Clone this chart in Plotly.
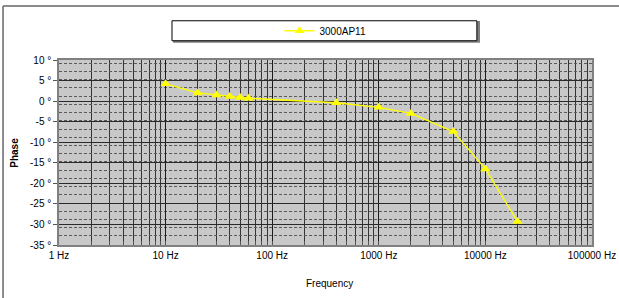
import plotly.graph_objects as go

freq_hz = [10, 20, 30, 40, 50, 60, 400, 1000, 2000, 5000, 10000, 20000]
phase_deg = [4.2, 2.0, 1.5, 1.1, 0.85, 0.7, -0.4, -1.5, -3.0, -7.4, -16.5, -29.3]
series_name = "3000AP11"

x_tickvals = [1, 10, 100, 1000, 10000, 100000]
x_ticktext = ["1 Hz", "10 Hz", "100 Hz", "1000 Hz", "10000 Hz", "100000 Hz"]
y_tickvals = [10, 5, 0, -5, -10, -15, -20, -25, -30, -35]
y_ticktext = [f"{v} °" for v in y_tickvals]
x_minor = [m * 10 ** d for d in range(5) for m in range(2, 10)]

FONT = "Liberation Sans, Arial, sans-serif"

fig = go.Figure()
fig.add_trace(go.Scatter(
    x=freq_hz, y=phase_deg, name=series_name, mode="lines+markers",
    line=dict(color="#FFFF00", width=1.3),
    marker=dict(symbol="triangle-up", size=9, color="#FFFF00"),
    showlegend=True,
))

fig.update_layout(
    width=619, height=298,
    margin=dict(l=59, r=27, t=60, b=53),
    paper_bgcolor="white", plot_bgcolor="#C8C8C8",
    font=dict(family=FONT, size=10, color="black"),
    showlegend=True,
    legend=dict(x=0.5, y=1.158, xanchor="center", yanchor="middle",
                orientation="h", bgcolor="rgba(0,0,0,0)",
                font=dict(family=FONT, size=10), itemwidth=30),
    xaxis=dict(
        type="log", range=[0, 5], automargin=False,
        tickmode="array", tickvals=x_tickvals, ticktext=x_ticktext,
        showgrid=True, gridcolor="#1a1a1a", gridwidth=1.2,
        ticks="inside", ticklen=4, tickcolor="#555",
        minor=dict(tickvals=x_minor, showgrid=True, gridcolor="#333333",
                   gridwidth=1.4, ticks="inside", ticklen=4, tickcolor="#555"),
        showline=True, linecolor="#808080", linewidth=1.5, mirror=True,
        zeroline=False, tickfont=dict(size=10),
    ),
    yaxis=dict(
        range=[-35, 10], automargin=False,
        tickmode="array", tickvals=y_tickvals, ticktext=y_ticktext,
        showgrid=True, gridcolor="#2a2a2a", gridwidth=1.3,
        ticks="outside", ticklen=4, tickcolor="#555",
        minor=dict(tick0=-0.8, dtick=2, showgrid=True, gridcolor="#5a5a5a",
                   griddash="3px,2px", gridwidth=1),
        showline=True, linecolor="#808080", linewidth=1.5, mirror=True,
        zeroline=False, tickfont=dict(size=10),
    ),
    annotations=[
        dict(text="<b>Phase</b>", x=-0.084, y=0.5, xref="paper", yref="paper",
             textangle=-90, showarrow=False, font=dict(size=10),
             xanchor="center", yanchor="middle"),
        dict(text="Frequency", x=0.508, y=-0.208, xref="paper", yref="paper",
             showarrow=False, font=dict(size=10),
             xanchor="center", yanchor="middle"),
    ],
    shapes=[
        # legend frame with shadow
        dict(type="rect", xref="paper", yref="paper",
             x0=0.216, x1=0.788, y0=1.098, y1=1.206,
             line=dict(color="#808080", width=2), fillcolor="#808080", layer="below"),
        dict(type="rect", xref="paper", yref="paper",
             x0=0.212, x1=0.784, y0=1.104, y1=1.212,
             line=dict(color="black", width=1), fillcolor="white", layer="below"),
        # outer chart frame (left and top)
        dict(type="line", xref="paper", yref="paper",
             x0=-0.105, x1=-0.105, y0=-0.4, y1=1.292,
             line=dict(color="#666", width=1.5)),
        dict(type="line", xref="paper", yref="paper",
             x0=-0.105, x1=1.2, y0=1.292, y1=1.292,
             line=dict(color="#666", width=1.5)),
    ],
)

fig.write_html(
    "out.html",
    config={"displayModeBar": False},
    post_script="document.body.style.margin='0';document.body.style.overflow='hidden';",
)
